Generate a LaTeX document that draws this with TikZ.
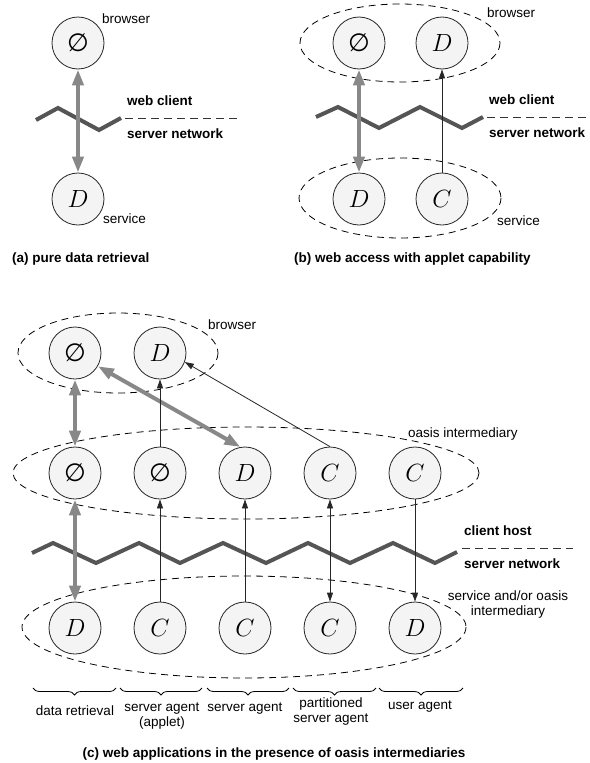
\documentclass[tikz,border=0pt]{standalone}
\usepackage{fontspec}
\setmainfont{Liberation Sans}
\newfontfamily\glyphfont{DejaVu Sans}
\usetikzlibrary{arrows.meta,decorations.pathreplacing}
\definecolor{flow}{HTML}{888888}
\definecolor{netline}{HTML}{555555}
\definecolor{bubble}{HTML}{F4F4F4}
\tikzset{
  agent/.style={circle,draw=black!85,line width=0.8pt,fill=bubble,minimum size=52pt,inner sep=0pt},
  nullagent/.style={agent,font=\fontsize{25}{25}\selectfont\glyphfont},
  letteragent/.style={agent,font=\fontsize{25}{25}\selectfont},
  datapath/.style={draw=flow,line width=4pt,{Triangle[length=16pt,width=11pt]}-{Triangle[length=16pt,width=11pt]}},
  link/.style={draw=black!85,line width=0.8pt,-{Triangle[length=9pt,width=6pt]}},
  duallink/.style={draw=black!85,line width=0.8pt,{Triangle[length=9pt,width=6pt]}-{Triangle[length=9pt,width=6pt]}},
  group/.style={draw=black,line width=0.8pt,dash pattern=on 7pt off 5pt},
  net/.style={draw=netline,line width=4pt},
  divider/.style={draw=black!80,line width=0.8pt,dash pattern=on 8pt off 5pt},
  lbl/.style={font=\fontsize{13.5}{14.5}\selectfont,inner sep=0pt},
  blbl/.style={font=\fontsize{13.5}{14.5}\selectfont\bfseries,inner sep=0pt},
  bracket/.style={draw=black,line width=0.8pt,decorate,decoration={brace,mirror,amplitude=7pt}},
}
\begin{document}
\begin{tikzpicture}[x=1pt,y=-1pt]
\useasboundingbox[fill=white] (0,0) rectangle (589,763);

% ---------- (a) pure data retrieval ----------
\node[nullagent] (aB) at (78,43) {∅};
\node[letteragent] (aD) at (78,199) {$D$};
\draw[net] (36,120) -- (58,108) -- (99,130) -- (121,118);
\draw[divider] (125,118) -- (237,118);
\draw[datapath] (aB) -- (aD);
\node[lbl,anchor=base west] (aBl) at (102,23) {browser};
\node[lbl,anchor=base west] (aDl) at (103,223) {service};
\node[blbl,anchor=base west] (awc) at (127,105) {web client};
\node[blbl,anchor=base west] (asn) at (127,138) {server network};
\node[blbl,anchor=base west] (acap) at (12,262) {(a) pure data retrieval};

% ---------- (b) web access with applet capability ----------
\draw[group] (400,43) ellipse [x radius=100, y radius=39];
\draw[group] (400,198) ellipse [x radius=101, y radius=40];
\node[nullagent] (bB) at (359,43) {∅};
\node[letteragent] (bD1) at (442,43) {$D$};
\node[letteragent] (bD2) at (359,199) {$D$};
\node[letteragent] (bC) at (442,199) {$C$};
\draw[net] (316,117) -- (338,107) -- (379,128) -- (420,107) -- (462,128) -- (483,117);
\draw[divider] (487,117) -- (589,117);
\draw[datapath] (bB) -- (bD2);
\draw[link] (bC) -- (bD1);
\node[lbl,anchor=base west] (bBl) at (487,17) {browser};
\node[lbl,anchor=base west] (bSl) at (497,225) {service};
\node[blbl,anchor=base west] (bwc) at (489,104) {web client};
\node[blbl,anchor=base west] (bsn) at (489,137) {server network};
\node[blbl,anchor=base west] (bcap) at (294,262) {(b) web access with applet capability};

% ---------- (c) web applications with oasis intermediaries ----------
\draw[group] (118,353) ellipse [x radius=100, y radius=40];
\draw[group] (246,473) ellipse [x radius=233, y radius=46];
\draw[group] (244,627) ellipse [x radius=222, y radius=51];

\node[nullagent] (cB) at (75,353) {∅};
\node[letteragent] (cD) at (160,353) {$D$};

\node[nullagent] (m1) at (75,473) {∅};
\node[nullagent] (m2) at (160,473) {∅};
\node[letteragent] (m3) at (245,473) {$D$};
\node[letteragent] (m4) at (330,473) {$C$};
\node[letteragent] (m5) at (415,473) {$C$};

\node[letteragent] (s1) at (75,628) {$D$};
\node[letteragent] (s2) at (160,628) {$C$};
\node[letteragent] (s3) at (245,628) {$C$};
\node[letteragent] (s4) at (330,628) {$C$};
\node[letteragent] (s5) at (415,628) {$D$};

\draw[net] (32,553) -- (53,543) -- (96,563) -- (139,543) -- (180,563) -- (223,543)
  -- (266,563) -- (308,543) -- (350,563) -- (393,543) -- (435,563) -- (457,552);
\draw[divider] (462,548) -- (573,548);

\draw[datapath] (cB) -- (m1);
\draw[datapath] (cB.-30) -- (m3.100);
\draw[datapath] (m1) -- (s1);
\draw[link] (m2) -- (cD);
\draw[link] (m4.north) -- (cD.-20);
\draw[link] (s2) -- (m2);
\draw[link] (s3) -- (m3);
\draw[duallink] (m4) -- (s4);
\draw[link] (m5) -- (s5);

\node[lbl,anchor=base west] (cBl) at (208,329) {browser};
\node[lbl,anchor=base west] (cOl) at (408,437) {oasis intermediary};
\node[blbl,anchor=base west] (cch) at (464,535) {client host};
\node[blbl,anchor=base west] (csn) at (464,568) {server network};
\node[lbl,anchor=north,align=center] (cSl) at (508,591) {service and/or oasis\\intermediary};

\draw[bracket] (33,688) -- (116,688);
\draw[bracket] (120,688) -- (202,688);
\draw[bracket] (207,688) -- (289,688);
\draw[bracket] (293,688) -- (376,688);
\draw[bracket] (379,688) -- (463,688);

\node[lbl,anchor=base] (r1) at (75,715) {data retrieval};
\node[lbl,anchor=north,align=center] (r2) at (162,703) {server agent\\(applet)};
\node[lbl,anchor=base] (r3) at (245,711) {server agent};
\node[lbl,anchor=north,align=center] (r4) at (331,698) {partitioned\\server agent};
\node[lbl,anchor=base] (r5) at (420,709) {user agent};

\node[blbl,anchor=base] (ccap) at (274,757) {(c) web applications in the presence of oasis intermediaries};
\end{tikzpicture}
\end{document}
